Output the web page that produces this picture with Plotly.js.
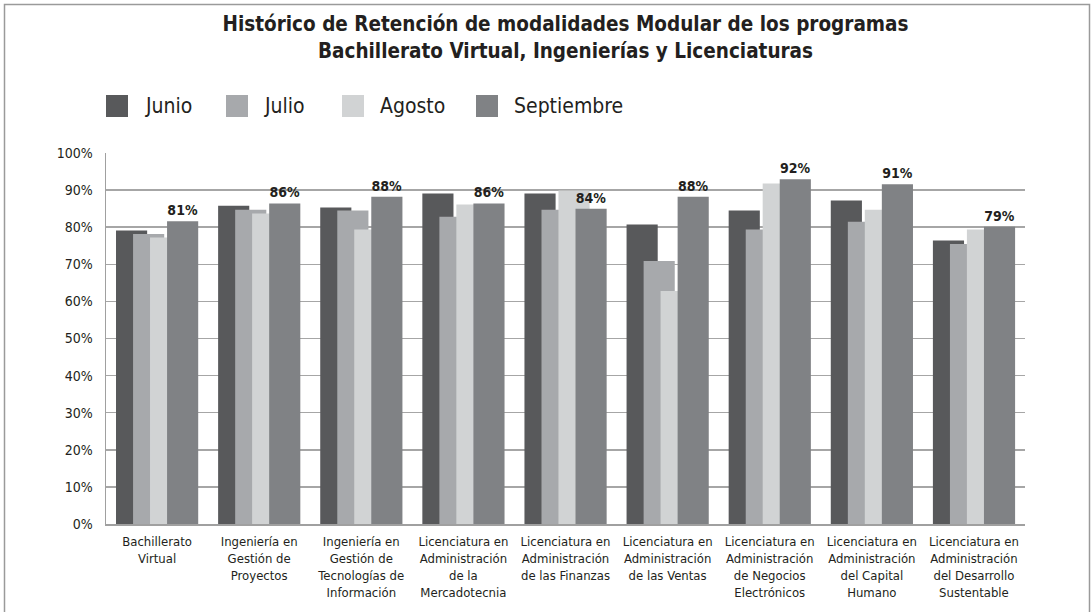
<!DOCTYPE html>
<html>
<head>
<meta charset="utf-8">
<script src="https://cdn.plot.ly/plotly-3.0.1.min.js"></script>
<style>html,body{margin:0;padding:0;background:#fff;}#chart{width:1091px;height:612px;}</style>
</head>
<body>
<div id="chart"></div>
<script>
var categories = [
  "Bachillerato<br>Virtual",
  "Ingeniería en<br>Gestión de<br>Proyectos",
  "Ingeniería en<br>Gestión de<br>Tecnologías de<br>Información",
  "Licenciatura en<br>Administración<br>de la<br>Mercadotecnia",
  "Licenciatura en<br>Administración<br>de las Finanzas",
  "Licenciatura en<br>Administración<br>de las Ventas",
  "Licenciatura en<br>Administración<br>de Negocios<br>Electrónicos",
  "Licenciatura en<br>Administración<br>del Capital<br>Humano",
  "Licenciatura en<br>Administración<br>del Desarrollo<br>Sustentable"
];
var seriesNames = ["Junio", "Julio", "Agosto", "Septiembre"];
var junio  = [79.1, 85.8, 85.3, 89.1, 89.1, 80.7, 84.5, 87.2, 76.4];
var julio  = [78.2, 84.7, 84.5, 82.8, 84.7, 70.9, 79.4, 81.5, 75.5];
var agosto = [77.2, 83.7, 79.4, 86.1, 89.9, 62.8, 91.8, 84.7, 79.4];
var septiembre = [81.6, 86.4, 88.2, 86.4, 85.0, 88.2, 92.9, 91.6, 80.1];
var septiembreLabels = ["81%", "86%", "88%", "86%", "84%", "88%", "92%", "91%", "79%"];
var yTickVals = [0, 10, 20, 30, 40, 50, 60, 70, 80, 90, 100];
var yTickText = ["0%", "10%", "20%", "30%", "40%", "50%", "60%", "70%", "80%", "90%", "100%"];

var colors = ["#58595b", "#a7a9ac", "#d1d3d4", "#808285"];
var offsets = [-0.402, -0.235, -0.069, 0.098];
var barWidth = 0.305;
var FONT = "DejaVu Sans Condensed, DejaVu Sans, sans-serif";
var allSeries = [junio, julio, agosto, septiembre];

var traces = allSeries.map(function (vals, i) {
  var t = {
    type: "bar",
    name: seriesNames[i],
    x: categories,
    y: vals,
    offset: offsets[i],
    width: barWidth,
    marker: { color: colors[i], line: { width: 0 } },
    showlegend: false,
    hoverinfo: "name+y",
    cliponaxis: false
  };
  if (i === 3) {
    t.text = septiembreLabels;
    t.textposition = "outside";
    t.textfont = { family: FONT, size: 14, color: "#231f20", weight: "bold" };
  }
  return t;
});

// plot area in pixels: x 106..1025, y 153..524
var L = 106, R = 1025, T = 153, B = 524;
function px(x) { return (x - L) / (R - L); }
function py(y) { return (B - y) / (B - T); }

var shapes = [];
var annotations = [];
var legendSq = [106, 226, 342, 476];
var legendTx = [143, 262, 378, 512];
seriesNames.forEach(function (n, i) {
  shapes.push({
    type: "rect", xref: "paper", yref: "paper",
    x0: px(legendSq[i]), x1: px(legendSq[i] + 22),
    y0: py(117), y1: py(95),
    fillcolor: colors[i], line: { width: 0 }
  });
  annotations.push({
    xref: "paper", yref: "paper", x: px(legendTx[i]), y: py(106),
    xanchor: "left", yanchor: "middle", showarrow: false,
    text: n, font: { family: FONT, size: 21, color: "#231f20" }
  });
});
// outer frame
shapes.push({
  type: "rect", xref: "paper", yref: "paper",
  x0: px(4.5), x1: px(1089.5), y0: py(640), y1: py(4.5),
  line: { color: "#9a9a9a", width: 1.5 }, fillcolor: "rgba(0,0,0,0)"
});

var layout = {
  width: 1091, height: 612,
  margin: { l: L, r: 1091 - R, t: T, b: 612 - B, pad: 0 },
  paper_bgcolor: "#ffffff", plot_bgcolor: "#ffffff",
  barmode: "overlay",
  title: {
    text: "<b>Histórico de Retención de modalidades Modular de los programas<br>Bachillerato Virtual, Ingenierías y Licenciaturas</b>",
    font: { family: FONT, size: 20.5, color: "#231f20" },
    x: 0.5, xref: "paper", xanchor: "center",
    y: 1 - 31 / 612, yanchor: "middle"
  },
  xaxis: {
    type: "category",
    tickmode: "array",
    tickvals: categories,
    ticktext: categories,
    showgrid: false,
    showline: true, linecolor: "#a0a0a0", linewidth: 1.5,
    ticks: "outside", ticklen: 5, tickcolor: "rgba(0,0,0,0)",
    tickfont: { family: FONT, size: 13, color: "#231f20" },
    tickangle: 0,
    range: [-0.5, 8.5],
    fixedrange: true
  },
  yaxis: {
    range: [0, 100],
    tickmode: "array",
    tickvals: yTickVals,
    ticktext: yTickText,
    showgrid: true, gridcolor: "#a6a6a6", gridwidth: 1.5,
    showline: true, linecolor: "#a0a0a0", linewidth: 1.5,
    zeroline: false,
    ticks: "outside", ticklen: 9, tickcolor: "rgba(0,0,0,0)",
    tickfont: { family: FONT, size: 14, color: "#231f20" },
    fixedrange: true
  },
  shapes: shapes,
  annotations: annotations,
  showlegend: false
};

Plotly.newPlot("chart", traces, layout, { displayModeBar: false, staticPlot: true });
</script>
</body>
</html>
